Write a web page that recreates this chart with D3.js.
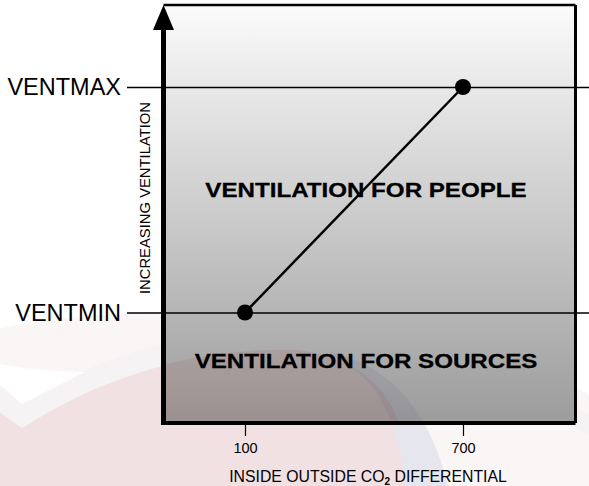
<!DOCTYPE html>
<html>
<head>
<meta charset="utf-8">
<script src="https://cdn.jsdelivr.net/npm/d3@7"></script>
<style>
  html, body { margin: 0; padding: 0; background: #fff; }
  svg { display: block; font-family: "Liberation Sans", Arial, sans-serif; }
</style>
</head>
<body>
<svg id="chart" width="589" height="486"></svg>
<script>
// Ventilation levels shown on the vertical axis (bottom to top)
const ventLevels = ["VENTMIN", "VENTMAX"];
// CO2 differential tick values on the horizontal axis
const co2Ticks = [100, 700];
// Control curve: CO2 differential -> ventilation level
const co2Points = [100, 700];
const ventPoints = ["VENTMIN", "VENTMAX"];
// Region captions
const regionNames = ["VENTILATION FOR PEOPLE", "VENTILATION FOR SOURCES"];
const axisTitles = { x: "INSIDE OUTSIDE CO", xSub: "2", xTail: " DIFFERENTIAL", y: "INCREASING VENTILATION" };

const svg = d3.select("#chart");
const W = 589, H = 486;
const box = { left: 163.5, right: 575.5, top: 5, bottom: 423 };

const x = d3.scaleLinear().domain([100, 700]).range([245, 463]);
const y = d3.scalePoint().domain(ventLevels).range([312.5, 87]);

// Faint background emblem
const defs = svg.append("defs");
const paleShape = "M-10,486 L-10,330 Q150,300 330,318 Q480,335 600,400 L600,486 Z";
const pinkShape = "M-10,486 L-10,405 L22,428 Q150,345 300,350 Q385,365 400,430 L405,486 Z";
const bandShape = "M-10,376 L22,404 Q150,322 310,333 Q470,352 600,420 L600,440 Q470,372 310,350 Q150,345 22,428 L-10,405 Z";
const blueShape = "M330,352 Q420,372 448,486 L405,486 Q395,380 330,356 Z";
const wm = svg.append("g").attr("class", "emblem");
wm.append("path").attr("d", paleShape).attr("fill", "#fbf6f6");
wm.append("path").attr("d", pinkShape).attr("fill", "#f2e1e2");
wm.append("path").attr("d", bandShape).attr("fill", "#f5f3f3");
wm.append("path").attr("d", "M-10,376 L22,404 L85,372 Q40,372 -10,362 Z").attr("fill", "#ffffff");
wm.append("path").attr("d", blueShape).attr("fill", "#e6e6ef");

// Plot background gradient
const grad = defs.append("linearGradient").attr("id", "bg")
  .attr("x1", 0).attr("y1", 0).attr("x2", 0).attr("y2", 1);
grad.append("stop").attr("offset", 0).attr("stop-color", "#fbfbfb");
grad.append("stop").attr("offset", 1).attr("stop-color", "#9c9c9c");

svg.append("rect")
  .attr("x", box.left).attr("y", box.top)
  .attr("width", box.right - box.left).attr("height", box.bottom - box.top)
  .attr("fill", "url(#bg)");

// Emblem tint showing through the plot area
const clip = defs.append("clipPath").attr("id", "plotClip");
clip.append("rect").attr("x", box.left).attr("y", box.top)
  .attr("width", box.right - box.left).attr("height", box.bottom - box.top);
const tint = svg.append("g").attr("clip-path", "url(#plotClip)");
tint.append("path").attr("d", pinkShape).attr("fill", "#a03030").attr("opacity", 0.1);
tint.append("path").attr("d", blueShape).attr("fill", "#303070").attr("opacity", 0.08);

// Ventilation level lines with labels (left axis drawn from the right edge)
const levelAxis = d3.axisLeft(y).tickSize(W - 127).tickPadding(6);
const gy = svg.append("g").attr("transform", `translate(${W},0)`).call(levelAxis);
gy.select(".domain").remove();
gy.selectAll(".tick line").attr("stroke", "#000").attr("stroke-width", 1.3);
gy.selectAll(".tick text").attr("fill", "#000").attr("font-size", 23.5)
  .attr("font-family", "Liberation Sans, Arial, sans-serif");

// CO2 axis
const co2Axis = d3.axisBottom(x).tickValues(co2Ticks).tickSize(13).tickPadding(7)
  .tickFormat(d3.format("d"));
const gx = svg.append("g").attr("transform", `translate(0,${box.bottom})`).call(co2Axis);
gx.select(".domain").remove();
gx.selectAll(".tick line").attr("stroke", "#000").attr("stroke-width", 1.2);
gx.selectAll(".tick text").attr("fill", "#000").attr("font-size", 14.5)
  .attr("font-family", "Liberation Sans, Arial, sans-serif");

// Box frame
svg.append("line").attr("x1", box.left).attr("x2", box.right).attr("y1", box.top).attr("y2", box.top)
  .attr("stroke", "#000").attr("stroke-width", 2.5);
svg.append("line").attr("x1", box.right).attr("x2", box.right).attr("y1", box.top).attr("y2", box.bottom)
  .attr("stroke", "#000").attr("stroke-width", 3);
svg.append("line").attr("x1", box.left).attr("x2", box.right).attr("y1", box.bottom).attr("y2", box.bottom)
  .attr("stroke", "#000").attr("stroke-width", 4);

// Vertical axis with arrow
svg.append("line").attr("x1", box.left).attr("x2", box.left).attr("y1", box.bottom + 2).attr("y2", 24)
  .attr("stroke", "#000").attr("stroke-width", 5);
svg.append("path")
  .attr("d", `M${box.left},${box.top} L${box.left + 10.5},30 L${box.left - 10.5},30 Z`)
  .attr("fill", "#000");

// Region captions (wide bold lettering)
const capX = 366;
[[regionNames[0], 197], [regionNames[1], 368]].forEach(([t, yy]) => {
  svg.append("text")
    .attr("transform", `translate(${capX},${yy}) scale(1.15,1)`)
    .attr("text-anchor", "middle").attr("font-weight", "bold").attr("font-size", 21)
    .attr("stroke", "#000").attr("stroke-width", 0.3)
    .text(t);
});

// Control line and its end points
const pts = co2Points.map((c, i) => ({ c, v: ventPoints[i] }));
svg.append("path")
  .datum(pts)
  .attr("d", d3.line().x(d => x(d.c)).y(d => y(d.v)))
  .attr("stroke", "#000").attr("stroke-width", 2.5).attr("fill", "none");
svg.selectAll("circle.pt").data(pts).join("circle")
  .attr("class", "pt")
  .attr("cx", d => x(d.c)).attr("cy", d => y(d.v)).attr("r", 8)
  .attr("fill", "#000");

// Axis titles
const xt = svg.append("text").attr("x", 368).attr("y", 482)
  .attr("text-anchor", "middle").attr("font-size", 15.8);
xt.append("tspan").text(axisTitles.x);
xt.append("tspan").attr("font-size", 10).attr("dy", 3).attr("font-weight", "bold").text(axisTitles.xSub);
xt.append("tspan").attr("dy", -3).text(axisTitles.xTail);

svg.append("text")
  .attr("transform", "translate(150,198) rotate(-90)")
  .attr("text-anchor", "middle").attr("font-size", 14.8)
  .text(axisTitles.y);
</script>
</body>
</html>
